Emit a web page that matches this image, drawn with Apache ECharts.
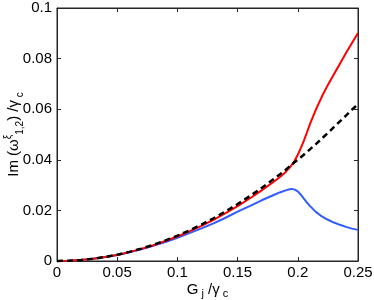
<!DOCTYPE html>
<html><head><meta charset="utf-8">
<script src="https://cdn.jsdelivr.net/npm/echarts@6/dist/echarts.min.js"></script>
<style>html,body{margin:0;padding:0;background:#fff}#c{width:374px;height:300px}</style>
</head><body><div id="c"></div>
<script>
var xGrid = [0, 0.01, 0.02, 0.03, 0.04, 0.05, 0.06, 0.07, 0.08, 0.09, 0.10, 0.11, 0.12, 0.13, 0.14, 0.15, 0.16, 0.17, 0.18, 0.185, 0.19, 0.1925, 0.195, 0.1975, 0.20, 0.2025, 0.205, 0.2075, 0.21, 0.215, 0.22, 0.225, 0.23, 0.235, 0.24, 0.245, 0.25];
var dashY = [0, 0.0001, 0.0004, 0.0009, 0.0016, 0.0025, 0.0036, 0.0049, 0.0064, 0.0081, 0.0100, 0.0121, 0.0144, 0.0169, 0.0196, 0.0225, 0.0256, 0.0289, 0.0324, 0.0342, 0.0361, 0.0371, 0.0381, 0.0391, 0.0400, 0.0410, 0.0420, 0.0431, 0.0441, 0.0462, 0.0484, 0.0506, 0.0529, 0.0552, 0.0575, 0.0598, 0.0620];
var redY = [0, 0.0001, 0.0004, 0.0009, 0.0016, 0.0024, 0.0035, 0.0048, 0.0062, 0.0079, 0.0097, 0.0117, 0.0139, 0.0163, 0.0189, 0.0217, 0.0247, 0.0279, 0.0313, 0.0331, 0.0352, 0.0365, 0.0380, 0.0397, 0.0420, 0.0446, 0.0475, 0.0507, 0.0540, 0.0598, 0.0650, 0.0696, 0.0738, 0.0780, 0.0822, 0.0862, 0.0901];
var blueY = [0, 0.0001, 0.0004, 0.0009, 0.0016, 0.0024, 0.0034, 0.0046, 0.0060, 0.0075, 0.0092, 0.0110, 0.0129, 0.0149, 0.0171, 0.0195, 0.0217, 0.0240, 0.0261, 0.0271, 0.0279, 0.0283, 0.0285, 0.0282, 0.0275, 0.0262, 0.0247, 0.0232, 0.0218, 0.0194, 0.0176, 0.0163, 0.0152, 0.0143, 0.0135, 0.0128, 0.0123];
var xTicks = ['0', '0.05', '0.1', '0.15', '0.2', '0.25'];
var yTicks = ['0', '0.02', '0.04', '0.06', '0.08', '0.1'];

function pairs(ys) { return xGrid.map(function (x, i) { return [x, ys[i]]; }); }
var FONT = 'Liberation Sans';
var axisCol = '#262626';
function tickStyle() { return { show: true, inside: true, length: 4, lineStyle: { color: axisCol, width: 1 } }; }
function lineStyle() { return { show: true, onZero: false, lineStyle: { color: axisCol, width: 1 } }; }

var chart = echarts.init(document.getElementById('c'), null, { renderer: 'canvas' });
chart.setOption({
  animation: false,
  backgroundColor: '#fff',
  grid: { left: 57, right: 16, top: 8, bottom: 39, containLabel: false, outerBoundsMode: 'none',
    show: true, borderColor: axisCol, borderWidth: 1, backgroundColor: 'transparent' },
  xAxis: [{
    type: 'value', min: 0, max: 0.25, interval: 0.05, position: 'bottom',
    axisLine: lineStyle(), axisTick: tickStyle(), splitLine: { show: false },
    axisLabel: { color: '#000', fontFamily: FONT, fontSize: 15, margin: 4,
      formatter: function (v) { var i = Math.round(v / 0.05); return xTicks[i]; } },
    name: '{n|G}{s| j}{n| /γ}{s| c}', nameLocation: 'middle', nameGap: 20, nameMoveOverlap: false,
    nameTextStyle: { rich: {
      n: { fontFamily: FONT, fontSize: 15, color: '#000', lineHeight: 18, verticalAlign: 'middle' },
      s: { fontFamily: FONT, fontSize: 11, color: '#000', lineHeight: 18, verticalAlign: 'bottom', padding: [5, 0, 0, 0] } } }
  }, {
    type: 'value', min: 0, max: 0.25, interval: 0.05, position: 'top', show: true,
    axisLine: lineStyle(), axisTick: tickStyle(), axisLabel: { show: false }, splitLine: { show: false }
  }],
  yAxis: [{
    type: 'value', min: 0, max: 0.1, interval: 0.02, position: 'left',
    axisLine: lineStyle(), axisTick: tickStyle(), splitLine: { show: false },
    axisLabel: { color: '#000', fontFamily: FONT, fontSize: 15, margin: 5,
      formatter: function (v) { var i = Math.round(v / 0.02); return yTicks[i]; } },
    name: '{n|Im (ω}{p|ξ}{s|1,2}{n|) /γ}{s| c}', nameLocation: 'middle', nameGap: 32, nameMoveOverlap: false,
    nameTextStyle: { rich: {
      n: { fontFamily: FONT, fontSize: 15, color: '#000', lineHeight: 22, verticalAlign: 'middle' },
      p: { fontFamily: FONT, fontSize: 10, color: '#000', lineHeight: 22, verticalAlign: 'top' },
      s: { fontFamily: FONT, fontSize: 10, color: '#000', lineHeight: 22, verticalAlign: 'bottom', padding: [6, 0, 0, 0] } } }
  }, {
    type: 'value', min: 0, max: 0.1, interval: 0.02, position: 'right', show: true,
    axisLine: lineStyle(), axisTick: tickStyle(), axisLabel: { show: false }, splitLine: { show: false }
  }],
  series: [{
    type: 'line', data: pairs(redY), showSymbol: false, smooth: false,
    lineStyle: { color: '#ff0000', width: 2 }, z: 3
  }, {
    type: 'line', data: pairs(blueY), showSymbol: false, smooth: false,
    lineStyle: { color: '#2f5cff', width: 2 }, z: 2
  }, {
    type: 'line', data: pairs(dashY), showSymbol: false, smooth: false, clip: false,
    lineStyle: { color: '#000', width: 2.5, type: [6, 4] }, z: 4,
    markLine: { silent: true, symbol: 'none', label: { show: false }, animation: false,
      lineStyle: { color: axisCol, width: 1, type: 'solid' },
      data: [{ yAxis: 0.1 }, { xAxis: 0.25 }] }
  }, {
    type: 'line', xAxisIndex: 1, yAxisIndex: 1, data: pairs(dashY), showSymbol: false,
    silent: true, lineStyle: { opacity: 0, width: 0 }, z: 0
  }]
});
</script></body></html>
